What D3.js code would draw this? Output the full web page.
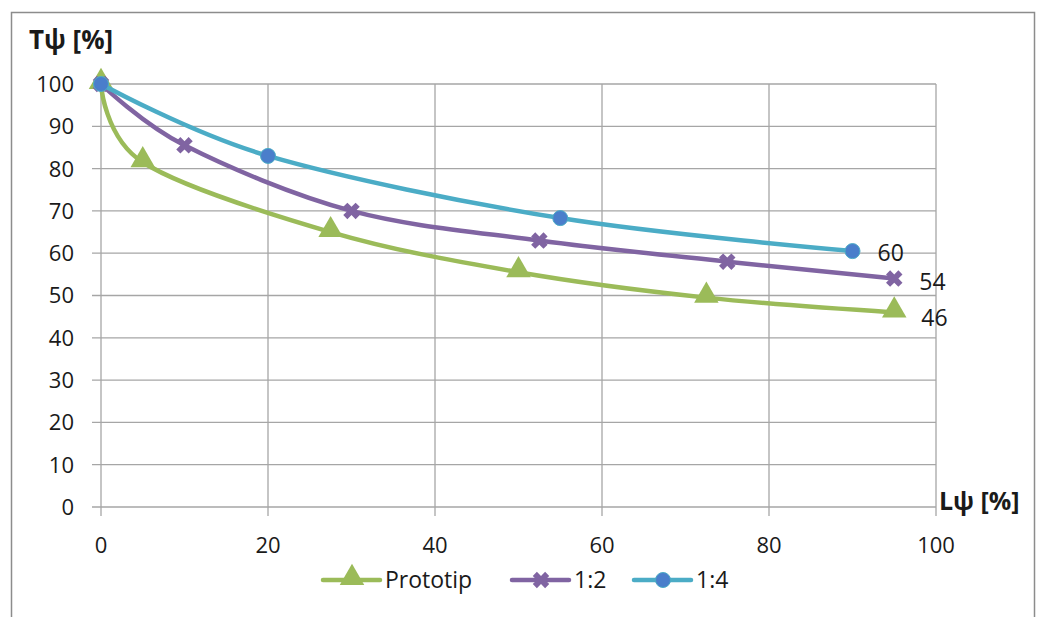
<!DOCTYPE html>
<html>
<head>
<meta charset="utf-8">
<script src="https://cdn.jsdelivr.net/npm/d3@7"></script>
<style>
  body { margin: 0; background: #fff; }
  text { font-family: "Open Sans", Calibri, sans-serif; fill: #1a1a1a; }
</style>
</head>
<body>
<script>
// data
var protoX = [0, 5, 27.5, 50, 72.5, 95];
var protoY = [100, 81.5, 65, 55.5, 49.5, 46];
var r12X = [0, 10, 30, 52.5, 75, 95];
var r12Y = [100, 85.5, 70, 63, 58, 54];
var r14X = [0, 20, 55, 90];
var r14Y = [100, 83, 68.3, 60.5];
var seriesNames = ["Prototip", "1:2", "1:4"];
var endLabels = ["46", "54", "60"];
var xTicks = [0, 20, 40, 60, 80, 100];
var yTicks = [0, 10, 20, 30, 40, 50, 60, 70, 80, 90, 100];

function init() {
    var w = 1044, h = 617;
    var svg = d3.select("body").append("svg")
        .attr("width", w)
        .attr("height", h);

    // chart border (runs off the bottom)
    svg.append("rect")
        .attr("x", 11.5).attr("y", 12.5)
        .attr("width", 1023).attr("height", 640)
        .attr("fill", "none")
        .attr("stroke", "#8c8c8c")
        .attr("stroke-width", 1.5);

    var xScale = d3.scaleLinear().domain([0, 100]).range([101, 936]);
    var yScale = d3.scaleLinear().domain([0, 100]).range([507, 84]);

    var grid = svg.append("g").attr("stroke", "#a6a6a6").attr("stroke-width", 1.3);
    grid.selectAll(".hg").data(yTicks).enter().append("line")
        .attr("x1", xScale(0) - 9).attr("x2", xScale(100))
        .attr("y1", function(d) { return yScale(d); })
        .attr("y2", function(d) { return yScale(d); });
    grid.selectAll(".vg").data(xTicks).enter().append("line")
        .attr("x1", function(d) { return xScale(d); })
        .attr("x2", function(d) { return xScale(d); })
        .attr("y1", yScale(100)).attr("y2", yScale(0) + 9);

    svg.selectAll(".yl").data(yTicks).enter().append("text")
        .attr("x", 74)
        .attr("y", function(d) { return yScale(d); })
        .attr("dy", "0.36em")
        .attr("text-anchor", "end")
        .attr("font-size", 22)
        .text(function(d) { return d; });

    svg.selectAll(".xl").data(xTicks).enter().append("text")
        .attr("x", function(d) { return xScale(d); })
        .attr("y", 545)
        .attr("dy", "0.36em")
        .attr("text-anchor", "middle")
        .attr("font-size", 22)
        .text(function(d) { return d; });

    svg.append("text")
        .attr("x", 29).attr("y", 49)
        .attr("font-size", 26).attr("font-weight", "bold")
        .text("Tψ [%]");
    svg.append("text")
        .attr("x", 939).attr("y", 510)
        .attr("font-size", 25).attr("font-weight", "bold")
        .text("Lψ [%]");

    var series = [
        { xs: protoX, ys: protoY, color: "#9bbb59", fill: "#9bbb59", marker: "tri" },
        { xs: r12X, ys: r12Y, color: "#8064a2", fill: "#8064a2", marker: "x" },
        { xs: r14X, ys: r14Y, color: "#4bacc6", fill: "#4a7ecb", marker: "circle" }
    ];

    var line = d3.line()
        .x(function(d) { return xScale(d[0]); })
        .y(function(d) { return yScale(d[1]); })
        .curve(d3.curveCardinal.tension(0));

    var triangle = d3.symbol().type(d3.symbolTriangle).size(260);
    var cross = d3.symbol().type(d3.symbolCross).size(170);

    function drawMarker(g, type, fill, x, y) {
        if (type == "tri") {
            g.append("path").attr("d", triangle())
                .attr("transform", "translate(" + x + "," + (y - 2) + ")")
                .attr("fill", fill);
        } else if (type == "x") {
            g.append("path").attr("d", cross())
                .attr("transform", "translate(" + x + "," + y + ") rotate(45)")
                .attr("fill", fill);
        } else {
            g.append("circle").attr("cx", x).attr("cy", y).attr("r", 7.5)
                .attr("fill", fill)
                .attr("stroke", "#4bacc6").attr("stroke-width", 1);
        }
    }

    series.forEach(function(s) {
        var pts = s.xs.map(function(x, i) { return [x, s.ys[i]]; });
        svg.append("path")
            .attr("d", line(pts))
            .attr("fill", "none")
            .attr("stroke", s.color)
            .attr("stroke-width", 4.5)
            .attr("stroke-linecap", "round");
        var g = svg.append("g");
        pts.forEach(function(p) {
            drawMarker(g, s.marker, s.fill, xScale(p[0]), yScale(p[1]));
        });
    });

    // end value labels
    var lastPts = [
        [protoX[protoX.length - 1], protoY[protoY.length - 1], 27, 5],
        [r12X[r12X.length - 1], r12Y[r12Y.length - 1], 25, 3],
        [r14X[r14X.length - 1], r14Y[r14Y.length - 1], 25, 2]
    ];
    lastPts.forEach(function(p, i) {
        svg.append("text")
            .attr("x", xScale(p[0]) + p[2])
            .attr("y", yScale(p[1]) + p[3])
            .attr("dy", "0.36em")
            .attr("font-size", 23)
            .text(endLabels[i]);
    });

    // legend
    var legX = [323, 512, 634];
    series.forEach(function(s, i) {
        var g = svg.append("g");
        g.append("line")
            .attr("x1", legX[i]).attr("x2", legX[i] + 57)
            .attr("y1", 580).attr("y2", 580)
            .attr("stroke", s.color).attr("stroke-width", 4.5)
            .attr("stroke-linecap", "round");
        drawMarker(g, s.marker, s.fill, legX[i] + 29, 580);
        g.append("text")
            .attr("x", legX[i] + 62).attr("y", 580)
            .attr("dy", "0.36em")
            .attr("font-size", 23)
            .text(seriesNames[i]);
    });
}

window.onload = init;
</script>
</body>
</html>
